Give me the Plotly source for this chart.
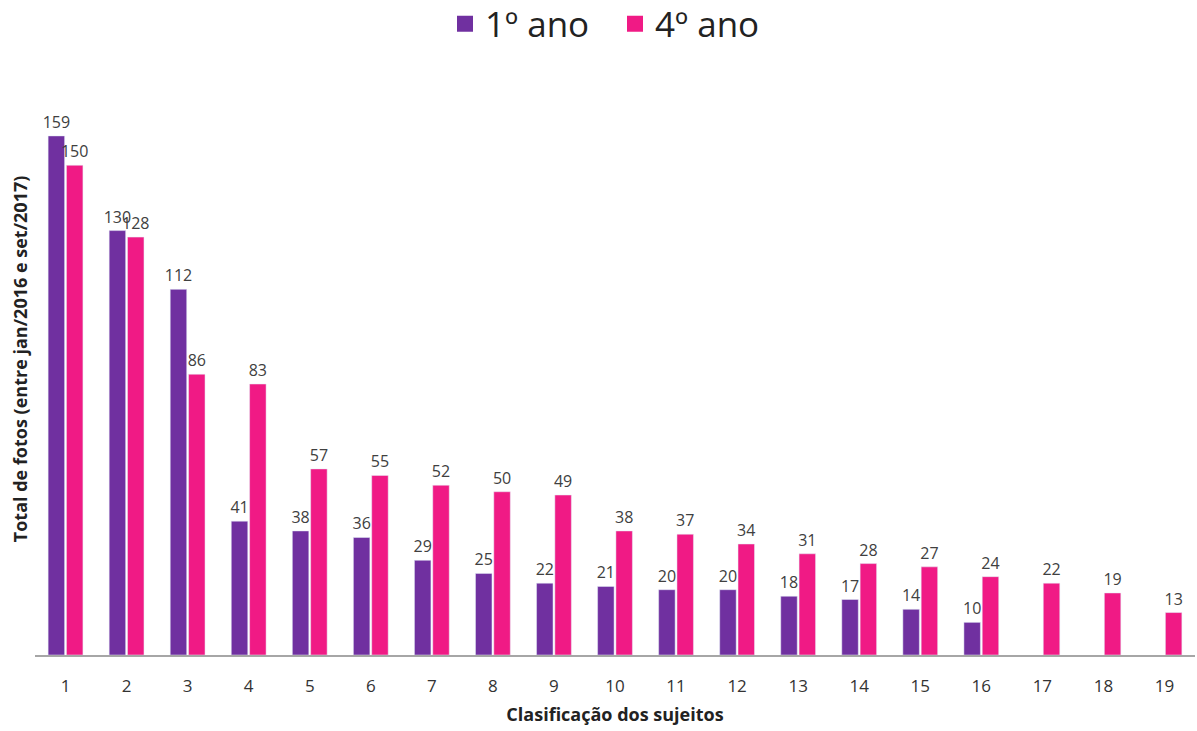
import plotly.graph_objects as go

categories = [str(i) for i in range(1, 20)]
ano1 = [159, 130, 112, 41, 38, 36, 29, 25, 22, 21, 20, 20, 18, 17, 14, 10, None, None, None]
ano4 = [150, 128, 86, 83, 57, 55, 52, 50, 49, 38, 37, 34, 31, 28, 27, 24, 22, 19, 13]
series_names = ["1º ano", "4º ano"]

PURPLE = "#7030A0"
PINK = "#F01A85"
FONT = "Open Sans"
LABEL_FONT = dict(size=16, color="#404040", family=FONT)

fig = go.Figure()
for vals, name, col in [(ano1, series_names[0], PURPLE), (ano4, series_names[1], PINK)]:
    fig.add_trace(go.Bar(
        x=categories, y=vals, name=name, marker_color=col, showlegend=False,
        text=[str(v) if v is not None else "" for v in vals],
        textposition="outside", textfont=LABEL_FONT, constraintext="none",
        cliponaxis=False, hoverinfo="x+y",
    ))
# legend entries with large square swatches
for name, col in [(series_names[0], PURPLE), (series_names[1], PINK)]:
    fig.add_trace(go.Scatter(
        x=[categories[0]], y=[None], mode="markers", name=name,
        marker=dict(symbol="square", size=22, color=col), showlegend=True,
    ))

fig.update_layout(
    width=1197, height=731,
    margin=dict(l=35, r=2, t=100, b=76, autoexpand=False),
    paper_bgcolor="white", plot_bgcolor="white",
    font=dict(family=FONT, color="#333333"),
    barmode="group", bargap=0.4, bargroupgap=0.1,
    showlegend=True,
    legend=dict(orientation="h", x=0.5, xanchor="center", y=1.19, yanchor="top",
                font=dict(size=35, color="#222222", family=FONT),
                itemsizing="trace", itemwidth=30, entrywidth=125, tracegroupgap=0),
    xaxis=dict(
        type="category", range=[-0.5, 18.5], showline=True, linecolor="#A6A6A6", linewidth=1.5,
        ticks="", tickfont=dict(size=17, color="#333333"), showgrid=False,
        ticklabelstandoff=15, automargin=False,
        title=dict(text="<b>Clasificação dos sujeitos</b>", font=dict(size=18, color="#222222"), standoff=12),
    ),
    yaxis=dict(range=[0, 170], showgrid=False, showline=False, showticklabels=False,
               zeroline=False, ticks="", automargin=False),
    annotations=[dict(
        text="<b>Total de fotos (entre jan/2016 e set/2017)</b>",
        xref="paper", yref="paper", x=-0.0129, y=0.533, xanchor="center", yanchor="middle",
        textangle=-90, showarrow=False, font=dict(size=18, color="#222222", family=FONT),
    )],
)

fig.write_html("out.html", config={"displayModeBar": False},
               post_script="document.body.style.margin='0px';")
